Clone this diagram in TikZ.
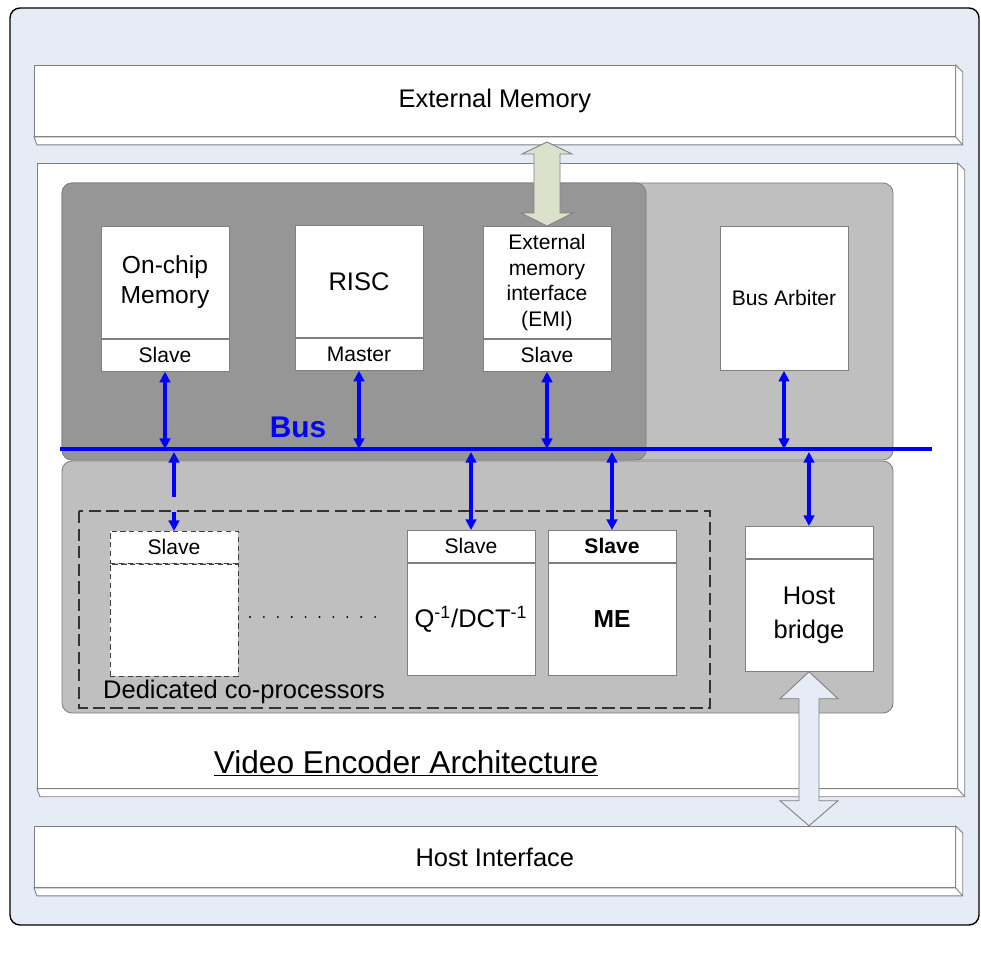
\documentclass[tikz,border=0pt]{standalone}
\usepackage{fontspec}
\setmainfont{Liberation Sans}
\usepackage{xcolor}
\usepackage{tikz}
\usetikzlibrary{arrows.meta, calc, positioning}

\definecolor{panelbg}{HTML}{E6ECF6}
\definecolor{darkpanel}{HTML}{969696}
\definecolor{lightpanel}{HTML}{BFBFBF}
\definecolor{edgegray}{HTML}{7F7F7F}
\definecolor{busblue}{HTML}{0000FF}
\definecolor{emifill}{HTML}{DCE1CB}

\begin{document}
\begin{tikzpicture}[
        x=0.02cm, y=-0.02cm,
        font=\fontsize{14}{17}\selectfont,
        edge/.style={draw=edgegray, line width=0.5pt},
        slab/.style={
            edge, fill=white, rectangle, inner sep=0pt,
            font=\fontsize{14.5}{17}\selectfont
        },
        unit/.style={
            edge, fill=white, rectangle, inner sep=0pt,
            minimum width=2.56cm, minimum height=2.24cm,
            align=center
        },
        port/.style={
            edge, fill=white, rectangle, inner sep=0pt,
            minimum width=2.56cm, minimum height=0.64cm,
            font=\fontsize{12}{14}\selectfont
        },
        sketchy/.style={draw=black!75, dash pattern=on 3pt off 2pt},
        busline/.style={draw=busblue, line width=2.2pt},
        buslink/.style={
            draw=busblue, line width=1.8pt,
            {Triangle[length=6pt,width=6pt]}-{Triangle[length=6pt,width=6pt]}
        },
        bigarrow/.style={edge, line join=miter},
    ]

    \useasboundingbox (0,0) rectangle (981,980);

    %============================================================
    % Outer frame
    %============================================================
    \draw[black, line width=0.8pt, fill=panelbg, rounded corners=0.2cm]
        (10,8) rectangle (979,925);

    %============================================================
    % Slabs: external memory, encoder, host interface
    %============================================================
    \node[slab, minimum width=18.42cm, minimum height=1.42cm, anchor=north west]
        (extmem) at (34,65) {External Memory};
    \node[slab, minimum width=18.40cm, minimum height=12.50cm, anchor=north west]
        (arch) at (37,163) {};
    \node[slab, minimum width=18.42cm, minimum height=1.22cm, anchor=north west]
        (hostif) at (34,826) {Host Interface};

    % bevel on right and bottom
    \foreach \s in {extmem, arch, hostif}{
        \draw[edge, fill=white] (\s.north east) -- ++(7,7)
            -- ($(\s.south east)+(7,8)$) -- ($(\s.south west)+(3,8)$)
            -- (\s.south west) -- (\s.south east) -- cycle;
        \draw[edge] (\s.south east) -- ++(7,8);
    }

    %============================================================
    % Grey panels
    %============================================================
    \draw[edge, fill=lightpanel, rounded corners=0.2cm] (62,183) rectangle (893,460);
    \draw[edge, fill=darkpanel, rounded corners=0.2cm] (62,183) rectangle (646,460);
    \draw[edge, fill=lightpanel, rounded corners=0.2cm] (62,461) rectangle (893,713);

    % co-processor group
    \draw[black!80, line width=1.1pt, dash pattern=on 7pt off 3pt] (79,511) rectangle (710,708);
    \node[anchor=base west, font=\fontsize{14.5}{17}\selectfont] (grp) at (97,698) {Dedicated co-processors};

    %============================================================
    % Bus masters / slaves
    %============================================================
    \node[unit, anchor=north] (onchip) at (165,226) {On-chip\\Memory};
    \node[port, below=0pt of onchip] (onchipS) {Slave};

    \node[unit, anchor=north, font=\fontsize{14.5}{17}\selectfont] (risc) at (359,225) {RISC};
    \node[port, below=0pt of risc] (riscS) {Master};

    \node[unit, anchor=north, font=\fontsize{12}{14.6}\selectfont] (emi) at (547,226)
        {External\\memory\\interface\\(EMI)};
    \node[port, below=0pt of emi] (emiS) {Slave};

    \node[unit, anchor=north, minimum height=2.88cm, font=\fontsize{12}{14}\selectfont]
        (arbiter) at (784,226) {Bus Arbiter};

    %============================================================
    % Co-processors and host bridge
    %============================================================
    \node[port, sketchy, anchor=north] (coprocS) at (174,531) {Slave};
    \node[unit, sketchy, below=0pt of coprocS] (coproc) {};

    \node[port, anchor=north] (qdctS) at (471,530) {Slave};
    \node[unit, below=0pt of qdctS, font=\fontsize{14.5}{17}\selectfont]
        (qdct) {Q\textsuperscript{-1}/DCT\textsuperscript{-1}};

    \node[port, anchor=north, font=\bfseries\fontsize{12}{14}\selectfont] (meS) at (612,530) {Slave};
    \node[unit, below=0pt of meS, font=\bfseries\fontsize{14}{17}\selectfont] (me) {ME};

    \node[port, anchor=north] (hostS) at (809,526) {};
    \node[unit, below=0pt of hostS, font=\fontsize{14.5}{19}\selectfont] (hostbr) {Host\\bridge};

    % dots between the co-processors
    \foreach \i in {0,...,9}
        \fill (250+\i*13.9,617) circle[radius=0.6pt];

    %============================================================
    % Wide arrows: EMI <-> external memory, host bridge <-> host
    %============================================================
    \draw[bigarrow, fill=emifill] (emi.north) -- ++(26,-13) -- ++(-13,0) -- ++(0,-59)
        -- ++(12,0) -- ++(-25,-12) -- ++(-25,12) -- ++(12,0) -- ++(0,59) -- ++(-13,0) -- cycle;

    \draw[bigarrow, fill=panelbg] (hostbr.south) -- ++(29,27) -- ++(-19,0) -- ++(0,102)
        -- ++(19,0) -- ++(-29,25) -- ++(-29,-25) -- ++(19,0) -- ++(0,-102) -- ++(-19,0) -- cycle;

    %============================================================
    % Bus
    %============================================================
    \coordinate (busL) at (60,449);
    \coordinate (busR) at (932,449);
    \coordinate (busLow) at (60,452);
    \draw[busline] (busL) -- (busR);
    \node[anchor=base, font=\bfseries\fontsize{17}{20}\selectfont, text=busblue]
        (buslabel) at (298,437) {Bus};

    \foreach \u in {onchipS, riscS, emiS, arbiter}
        \draw[buslink] (\u.south) -- (\u.south |- busL);
    \foreach \l in {qdctS, meS, hostS}
        \draw[buslink] (busLow -| \l.north) -- (\l.north);
    \draw[buslink, dash pattern=on 20pt off 8.5pt] (busLow -| coprocS.north) -- (coprocS.north);

    %============================================================
    % Title
    %============================================================
    \node[anchor=base, font=\fontsize{18}{20}\selectfont] (title) at (406,773)
        {\underline{Video Encoder Architecture}};

\end{tikzpicture}
\end{document}
